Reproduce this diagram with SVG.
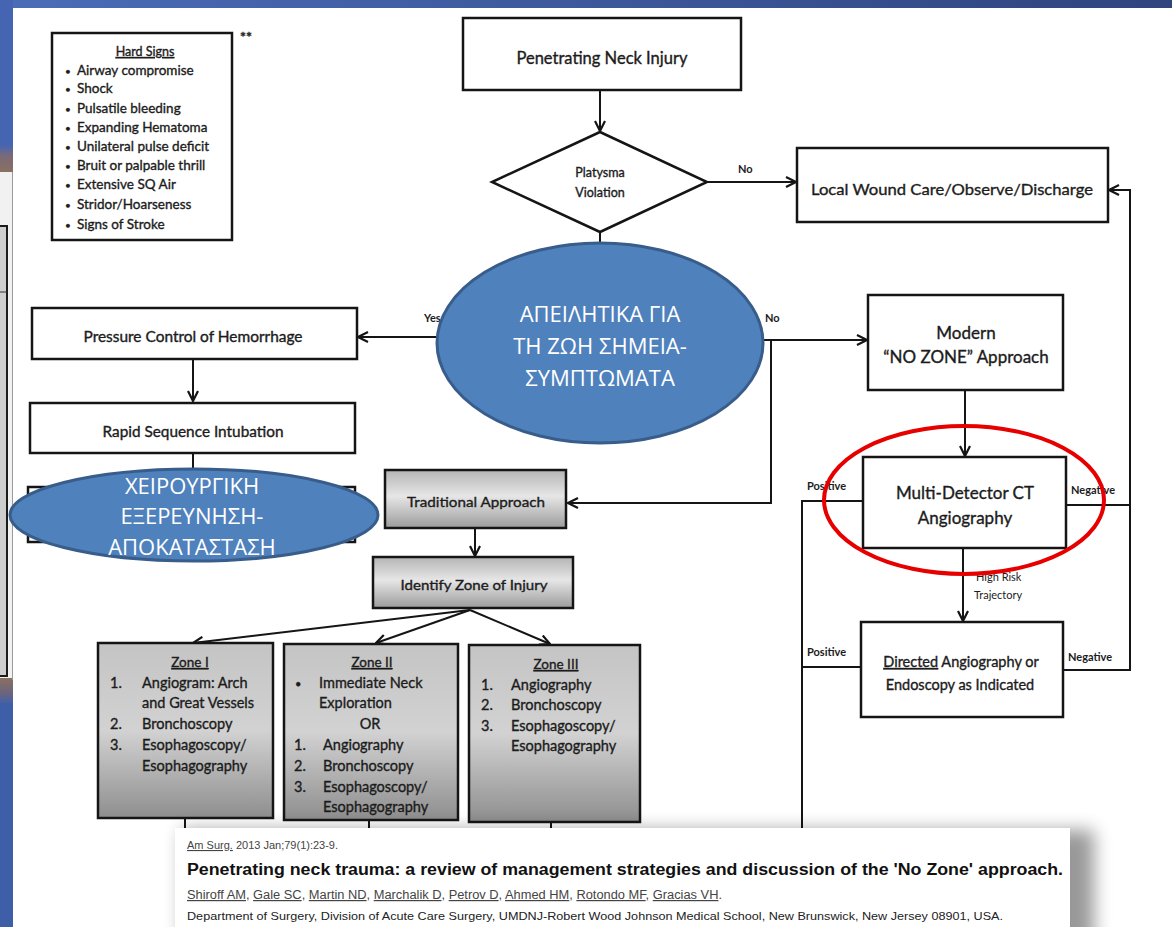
<svg xmlns="http://www.w3.org/2000/svg" width="1172" height="927" viewBox="0 0 1172 927">
<defs>
<style>
.bx{fill:#fff;stroke:#151515;stroke-width:2.5}
.gb{stroke:#151515;stroke-width:2.5}
.t{font-family:Lato,"Noto Sans",sans-serif;fill:#1c1c1c;stroke:#1c1c1c;stroke-width:0.35}
.c{text-anchor:middle}
.ln{fill:none;stroke:#151515;stroke-width:2}
.lb{font-family:Lato,"Noto Sans",sans-serif;font-size:11px;fill:#1c1c1c;font-weight:bold}
.gr{font-family:"Open Sans","Noto Sans",sans-serif;fill:#fff;text-anchor:middle}
.cit{font-family:"Liberation Sans",Arial,sans-serif}
</style>
<linearGradient id="band" x1="0" y1="0" x2="1" y2="0"><stop offset="0" stop-color="#4b6cb8"/><stop offset="1" stop-color="#2f447f"/></linearGradient>
<linearGradient id="brn1" x1="0" y1="0" x2="0" y2="1"><stop offset="0" stop-color="#4565b2"/><stop offset="0.4" stop-color="#7a6a78"/><stop offset="1" stop-color="#8c705f"/></linearGradient>
<linearGradient id="brn2" x1="0" y1="0" x2="0" y2="1"><stop offset="0" stop-color="#8c705f"/><stop offset="0.6" stop-color="#6a6480"/><stop offset="1" stop-color="#4060aa"/></linearGradient>
<linearGradient id="g1" x1="0" y1="0" x2="0" y2="1"><stop offset="0" stop-color="#b4b4b4"/><stop offset="0.45" stop-color="#e6e6e6"/><stop offset="1" stop-color="#9c9c9c"/></linearGradient>
<linearGradient id="gz" x1="0" y1="0" x2="0" y2="1"><stop offset="0" stop-color="#c4c4c4"/><stop offset="0.5" stop-color="#d2d2d2"/><stop offset="1" stop-color="#8e8e8e"/></linearGradient>
<filter id="sh" x="-10%" y="-20%" width="120%" height="140%"><feGaussianBlur stdDeviation="9"/></filter>
<marker id="ah" viewBox="0 0 12 12" refX="11" refY="6" markerWidth="12" markerHeight="12" markerUnits="userSpaceOnUse" orient="auto"><path d="M1,1 L11,6 L1,11" fill="none" stroke="#151515" stroke-width="2.2"/></marker>
</defs>

<g id="background">
<rect x="0" y="0" width="1172" height="927" fill="#fff"/>
<rect x="0" y="0" width="1172" height="8" fill="url(#band)"/>
<rect x="0" y="0" width="13" height="150" fill="#4565b2"/>
<rect x="0" y="145" width="13" height="28" fill="url(#brn1)"/>
<rect x="0" y="172" width="12" height="508" fill="#f1f1f1"/>
<rect x="-3" y="226" width="10" height="450" fill="#cdcdcd" stroke="#1a1a1a" stroke-width="2"/>
<line x1="0" y1="292" x2="7" y2="292" stroke="#333" stroke-width="1"/>
<rect x="0" y="678" width="13" height="26" fill="url(#brn2)"/>
<rect x="0" y="703" width="13" height="224" fill="#3f5ea8"/>
<line x1="12.5" y1="172" x2="12.5" y2="680" stroke="#9a9a9a" stroke-width="1"/>
</g>

<g id="connectors">
<path class="ln" d="M600,90 V131" marker-end="url(#ah)"/>
<path class="ln" d="M600,232 V246"/>
<path class="ln" d="M707,182 H796" marker-end="url(#ah)"/>
<path class="ln" d="M440,337 H358" marker-end="url(#ah)"/>
<path class="ln" d="M193,359 V401" marker-end="url(#ah)"/>
<path class="ln" d="M193,453 V487"/>
<path class="ln" d="M760,340 H867" marker-end="url(#ah)"/>
<path class="ln" d="M771,340 V503 H568" marker-end="url(#ah)"/>
<path class="ln" d="M475,528 V556" marker-end="url(#ah)"/>
<path class="ln" d="M470,610 L193,643" marker-end="url(#ah)"/>
<path class="ln" d="M470,610 L376,643" marker-end="url(#ah)"/>
<path class="ln" d="M470,610 L550,644" marker-end="url(#ah)"/>
<path class="ln" d="M185,818 V832"/>
<path class="ln" d="M369,820 V832"/>
<path class="ln" d="M551,822 V832"/>
<path class="ln" d="M965,390 V456" marker-end="url(#ah)"/>
<path class="ln" d="M963,548 V621" marker-end="url(#ah)"/>
<path class="ln" d="M863,501 H802 V832"/>
<path class="ln" d="M861,667 H802"/>
<path class="ln" d="M1066,505 H1130"/>
<path class="ln" d="M1063,670 H1130 V190 H1109" marker-end="url(#ah)"/>
<text class="lb" x="738" y="173">No</text>
<text class="lb" x="424" y="322">Yes</text>
<text class="lb" x="765" y="322">No</text>
<text class="lb" x="807" y="490">Positive</text>
<text class="lb" x="1071" y="494">Negative</text>
<text class="lb" x="807" y="656">Positive</text>
<text class="lb" x="1068" y="661">Negative</text>
<text class="lb" x="976" y="581" style="font-weight:normal">High Risk</text>
<text class="lb" x="974" y="599" style="font-weight:normal">Trajectory</text>
</g>

<g id="hard-signs">
<rect class="bx" x="52" y="33" width="180" height="207"/>
<text class="t" x="240" y="42" font-size="14" font-weight="bold">**</text>
<text class="t c" x="145" y="56" font-size="12.5" text-decoration="underline">Hard Signs</text>
<g class="t" font-size="13.5">
<text x="65" y="75" font-size="10">•</text><text x="77" y="75">Airway compromise</text>
<text x="65" y="93" font-size="10">•</text><text x="77" y="93">Shock</text>
<text x="65" y="113" font-size="10">•</text><text x="77" y="113">Pulsatile bleeding</text>
<text x="65" y="132" font-size="10">•</text><text x="77" y="132">Expanding Hematoma</text>
<text x="65" y="151" font-size="10">•</text><text x="77" y="151">Unilateral pulse deficit</text>
<text x="65" y="170" font-size="10">•</text><text x="77" y="170">Bruit or palpable thrill</text>
<text x="65" y="189" font-size="10">•</text><text x="77" y="189">Extensive SQ Air</text>
<text x="65" y="209" font-size="10">•</text><text x="77" y="209">Stridor/Hoarseness</text>
<text x="65" y="229" font-size="10">•</text><text x="77" y="229">Signs of Stroke</text>
</g>
</g>

<g id="penetrating-neck-injury">
<rect class="bx" x="463" y="18" width="278" height="72"/>
<text class="t c" x="602" y="64" font-size="16.5">Penetrating Neck Injury</text>
</g>

<g id="platysma-violation">
<polygon class="bx" points="600,132 707,182 600,232 492,182"/>
<text class="t c" x="600" y="177" font-size="12.5">Platysma</text>
<text class="t c" x="600" y="197" font-size="12.5">Violation</text>
</g>

<g id="local-wound-care">
<rect class="bx" x="797" y="148" width="311" height="74"/>
<text class="t c" x="952" y="195" font-size="16" textLength="282" lengthAdjust="spacingAndGlyphs">Local Wound Care/Observe/Discharge</text>
</g>

<g id="pressure-control">
<rect class="bx" x="32" y="308" width="325" height="51"/>
<text class="t c" x="193" y="342" font-size="14.5" textLength="219" lengthAdjust="spacingAndGlyphs">Pressure Control of Hemorrhage</text>
</g>

<g id="rapid-sequence">
<rect class="bx" x="30" y="403" width="325" height="50"/>
<text class="t c" x="193" y="437" font-size="14.5" textLength="181" lengthAdjust="spacingAndGlyphs">Rapid Sequence Intubation</text>
</g>

<g id="hidden-box">
<rect class="bx" x="28" y="487" width="327" height="55"/>
</g>

<g id="surgical-exploration">
<ellipse cx="194" cy="515" rx="184" ry="46" fill="#4f81bd" stroke="#385d8a" stroke-width="3"/>
<text class="gr" x="192" y="494" font-size="22">ΧΕΙΡΟΥΡΓΙΚΗ</text>
<text class="gr" x="192" y="524" font-size="22">ΕΞΕΡΕΥΝΗΣΗ-</text>
<text class="gr" x="192" y="555" font-size="22">ΑΠΟΚΑΤΑΣΤΑΣΗ</text>
</g>

<g id="life-threatening">
<ellipse cx="600" cy="343" rx="163" ry="100" fill="#4f81bd" stroke="#385d8a" stroke-width="3"/>
<text class="gr" x="600" y="322" font-size="22">ΑΠΕΙΛΗΤΙΚΑ ΓΙΑ</text>
<text class="gr" x="600" y="354" font-size="22">ΤΗ ΖΩΗ ΣΗΜΕΙΑ-</text>
<text class="gr" x="600" y="386" font-size="22">ΣΥΜΠΤΩΜΑΤΑ</text>
</g>

<g id="modern-approach">
<rect class="bx" x="868" y="295" width="195" height="95"/>
<text class="t c" x="966" y="339" font-size="17">Modern</text>
<text class="t c" x="966" y="363" font-size="17">“NO ZONE” Approach</text>
</g>

<g id="traditional-approach">
<rect class="gb" x="385" y="470" width="181" height="58" fill="url(#g1)"/>
<text class="t c" x="476" y="507" font-size="14" textLength="138" lengthAdjust="spacingAndGlyphs">Traditional Approach</text>
</g>

<g id="identify-zone">
<rect class="gb" x="373" y="557" width="200" height="51" fill="url(#g1)"/>
<text class="t c" x="474" y="590" font-size="14" textLength="147" lengthAdjust="spacingAndGlyphs">Identify Zone of Injury</text>
</g>

<g id="zone-1">
<rect class="gb" x="98" y="643" width="175" height="175" fill="url(#gz)"/>
<g class="t" font-size="14.5">
<text class="c" x="190" y="667" font-size="13.5" text-decoration="underline">Zone I</text>
<text x="110" y="688">1.</text><text x="142" y="688">Angiogram: Arch</text>
<text x="142" y="708">and Great Vessels</text>
<text x="110" y="729">2.</text><text x="142" y="729">Bronchoscopy</text>
<text x="110" y="750">3.</text><text x="142" y="750">Esophagoscopy/</text>
<text x="142" y="771">Esophagography</text>
</g>
</g>

<g id="zone-2">
<rect class="gb" x="284" y="644" width="174" height="176" fill="url(#gz)"/>
<g class="t" font-size="14.5">
<text class="c" x="372" y="667" font-size="13.5" text-decoration="underline">Zone II</text>
<text x="295" y="688" font-size="11">•</text><text x="319" y="688">Immediate Neck</text>
<text x="319" y="708">Exploration</text>
<text class="c" x="370" y="729">OR</text>
<text x="294" y="750">1.</text><text x="323" y="750">Angiography</text>
<text x="294" y="771">2.</text><text x="323" y="771">Bronchoscopy</text>
<text x="294" y="792">3.</text><text x="323" y="792">Esophagoscopy/</text>
<text x="323" y="812">Esophagography</text>
</g>
</g>

<g id="zone-3">
<rect class="gb" x="469" y="645" width="171" height="177" fill="url(#gz)"/>
<g class="t" font-size="14.5">
<text class="c" x="556" y="669" font-size="13.5" text-decoration="underline">Zone III</text>
<text x="481" y="690">1.</text><text x="511" y="690">Angiography</text>
<text x="481" y="710">2.</text><text x="511" y="710">Bronchoscopy</text>
<text x="481" y="731">3.</text><text x="511" y="731">Esophagoscopy/</text>
<text x="511" y="751">Esophagography</text>
</g>
</g>

<g id="mdct">
<rect class="bx" x="863" y="457" width="203" height="91"/>
<text class="t c" x="965" y="499" font-size="17">Multi-Detector CT</text>
<text class="t c" x="965" y="524" font-size="17">Angiography</text>
<ellipse cx="964" cy="500" rx="140" ry="74" fill="none" stroke="#e60000" stroke-width="4"/>
</g>

<g id="directed-angiography">
<rect class="bx" x="861" y="622" width="202" height="95"/>
<text class="t c" x="961" y="667" font-size="14.5"><tspan text-decoration="underline">Directed</tspan> Angiography or</text>
<text class="t c" x="960" y="690" font-size="14.5">Endoscopy as Indicated</text>
</g>

<g id="citation">
<rect x="182" y="830" width="912" height="120" fill="#000" opacity="0.4" filter="url(#sh)"/>
<rect x="175" y="828" width="895" height="99" fill="#fff"/>
<text class="cit" x="187" y="849" font-size="11" fill="#444"><tspan text-decoration="underline">Am Surg.</tspan> 2013 Jan;79(1):23-9.</text>
<text class="cit" x="187" y="875" font-size="16" font-weight="bold" fill="#111" textLength="876" lengthAdjust="spacingAndGlyphs">Penetrating neck trauma: a review of management strategies and discussion of the 'No Zone' approach.</text>
<text class="cit" x="187" y="899" font-size="12" fill="#444" textLength="535" lengthAdjust="spacingAndGlyphs"><tspan text-decoration="underline">Shiroff AM</tspan>, <tspan text-decoration="underline">Gale SC</tspan>, <tspan text-decoration="underline">Martin ND</tspan>, <tspan text-decoration="underline">Marchalik D</tspan>, <tspan text-decoration="underline">Petrov D</tspan>, <tspan text-decoration="underline">Ahmed HM</tspan>, <tspan text-decoration="underline">Rotondo MF</tspan>, <tspan text-decoration="underline">Gracias VH</tspan>.</text>
<text class="cit" x="187" y="920" font-size="10.5" fill="#222" textLength="816" lengthAdjust="spacingAndGlyphs">Department of Surgery, Division of Acute Care Surgery, UMDNJ-Robert Wood Johnson Medical School, New Brunswick, New Jersey 08901, USA.</text>
</g>
</svg>
